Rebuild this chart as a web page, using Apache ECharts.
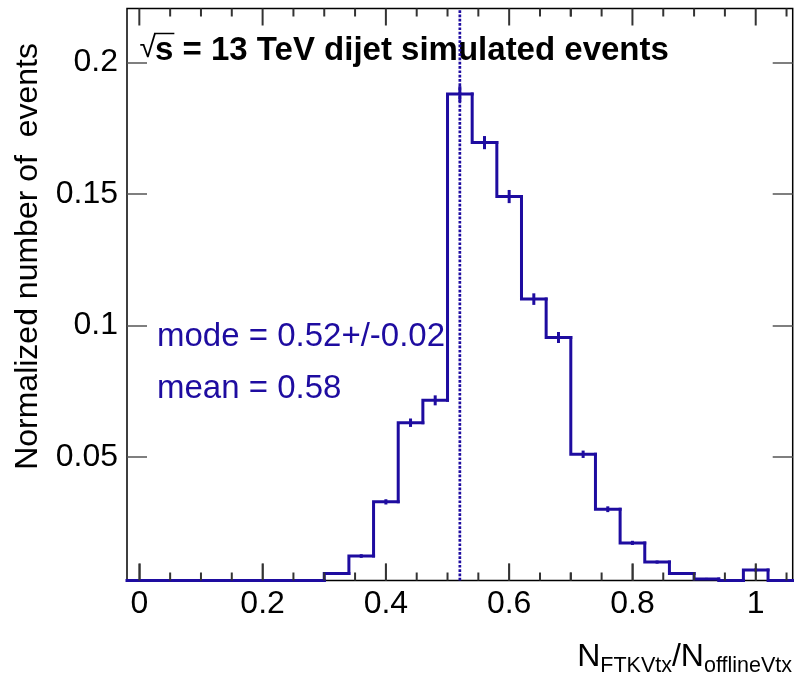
<!DOCTYPE html>
<html>
<head>
<meta charset="utf-8">
<script src="https://cdn.jsdelivr.net/npm/echarts@6/dist/echarts.min.js"></script>
<style>
  html, body { margin: 0; padding: 0; background: #ffffff; }
  #chart { width: 794px; height: 682px; }
</style>
</head>
<body>
<div id="chart"></div>
<script>
// Normalized distribution of N_FTKVtx / N_offlineVtx, 0.04-wide bins from -0.02 to 1.06
const binLowEdges = [-0.02, 0.02, 0.06, 0.10, 0.14, 0.18, 0.22, 0.26, 0.30, 0.34, 0.38, 0.42, 0.46,
                     0.50, 0.54, 0.58, 0.62, 0.66, 0.70, 0.74, 0.78, 0.82, 0.86, 0.90, 0.94, 0.98, 1.02];
const binWidth = 0.04;
const binContents = [0, 0, 0, 0, 0, 0, 0, 0, 0.0057, 0.0123, 0.0329, 0.0630, 0.0715,
                     0.1880, 0.1695, 0.1490, 0.1100, 0.0954, 0.0510, 0.0301, 0.0173, 0.0100, 0.0057, 0.0036, 0.0028, 0.0070, 0];
const binErrors   = [0, 0, 0, 0, 0, 0, 0, 0, 0.0005, 0.0007, 0.0010, 0.0016, 0.0019,
                     0.0030, 0.0025, 0.0025, 0.0022, 0.0021, 0.0014, 0.0011, 0.0008, 0.0006, 0.0005, 0.0004, 0.0003, 0.0006, 0];

// Summary numbers quoted on the plot
const modeValue = 0.52;
const modeError = 0.02;
const meanValue = 0.58;

// Axis ranges and ticks
const xRange = [-0.02, 1.06];
const yRange = [0.003, 0.2205];
const xMajorTicks = [0, 0.2, 0.4, 0.6, 0.8, 1];
const xTickLabels = ['0', '0.2', '0.4', '0.6', '0.8', '1'];
const xMinorTicks = [0.05, 0.1, 0.15, 0.25, 0.3, 0.35, 0.45, 0.5, 0.55, 0.65, 0.7, 0.75,
                     0.85, 0.9, 0.95, 1.05];
const yMajorTicks = [0.05, 0.1, 0.15, 0.2];
const yTickLabels = ['0.05', '0.1', '0.15', '0.2'];

const titleText = 's = 13 TeV dijet simulated events';
const yTitle = 'Normalized number of  events';
const xTitleParts = [['N', false], ['FTKVtx', true], ['/N', false], ['offlineVtx', true]];

const HIST = '#1e0ca0';
const TICK = '#333';
const FAMILY = '"Liberation Sans", Arial, Helvetica, sans-serif';
const font = (weight, size) => `${weight} ${size}px ${FAMILY}`;

const measureCtx = document.createElement('canvas').getContext('2d');
function textWidth(text, f) { measureCtx.font = f; return measureCtx.measureText(text).width; }

const chart = echarts.init(document.getElementById('chart'), null, { renderer: 'canvas' });

const frame = { left: 127, top: 8.5, width: 665.7, height: 572 };

const histData = binLowEdges.map((lo, i) => [
  lo, lo + binWidth, binContents[i], i > 0 ? binContents[i - 1] : binContents[i], binErrors[i]
]);

// One bin: rise from the previous level, then the flat top; error bar at the bin centre
function renderBin(params, api) {
  const lo = api.value(0), hi = api.value(1), v = api.value(2), pv = api.value(3), e = api.value(4);
  const floor = yRange[0];
  const p0 = api.coord([lo, Math.max(pv, floor)]);
  const p1 = api.coord([lo, Math.max(v, floor)]);
  const p2 = api.coord([hi, Math.max(v, floor)]);
  const children = [{
    type: 'polyline',
    shape: { points: [p0, p1, p2] },
    style: { stroke: HIST, lineWidth: 3, fill: 'none', lineJoin: 'miter', lineCap: 'square' }
  }];
  if (e > 0) {
    const c = (lo + hi) / 2;
    const a = api.coord([c, v - e]);
    const b = api.coord([c, v + e]);
    children.push({
      type: 'line',
      shape: { x1: a[0], y1: a[1], x2: b[0], y2: b[1] },
      style: { stroke: HIST, lineWidth: 3 }
    });
  }
  // x tick marks belonging to this bin's range, on the bottom and top frame edges
  const floorY = api.coord([lo, yRange[0]])[1];
  const topY = api.coord([lo, yRange[1]])[1];
  const addTick = (tv, len) => {
    const x = api.coord([tv, yRange[0]])[0];
    children.push({ type: 'line', shape: { x1: x, y1: floorY, x2: x, y2: floorY - len },
                    style: { stroke: TICK, lineWidth: 2 } });
    children.push({ type: 'line', shape: { x1: x, y1: topY, x2: x, y2: topY + len },
                    style: { stroke: TICK, lineWidth: 2 } });
  };
  xMajorTicks.forEach(tv => { if (tv >= lo && tv < hi) addTick(tv, 17); });
  xMinorTicks.forEach(tv => { if (tv >= lo && tv < hi) addTick(tv, 8); });
  return { type: 'group', children };
}

// Text pieces placed on the canvas
const graphics = [];
const titleFont = font('bold', 33);
const titleX = 155;
graphics.push({
  type: 'text', x: titleX + 1, y: 49, silent: true,
  style: { text: '\u221A', font: font('normal', 30), fill: '#000',
           align: 'right', textAlign: 'right', verticalAlign: 'middle', textVerticalAlign: 'middle' }
});
graphics.push({
  type: 'line', silent: true,
  shape: { x1: titleX - 1, y1: 33.5, x2: titleX + textWidth('s', titleFont) + 1, y2: 33.5 },
  style: { stroke: '#000', lineWidth: 1.5 }
});
graphics.push({
  type: 'text', x: titleX, y: 51, silent: true,
  style: { text: titleText, font: titleFont, fill: '#000',
           align: 'left', textAlign: 'left', verticalAlign: 'middle', textVerticalAlign: 'middle' }
});
graphics.push({
  type: 'text', x: 157, y: 337, silent: true,
  style: { text: 'mode = ' + modeValue.toFixed(2) + '+/-' + modeError.toFixed(2), font: font('normal', 33), fill: HIST,
           align: 'left', textAlign: 'left', verticalAlign: 'middle', textVerticalAlign: 'middle' }
});
graphics.push({
  type: 'text', x: 157, y: 389, silent: true,
  style: { text: 'mean = ' + meanValue.toFixed(2), font: font('normal', 33), fill: HIST,
           align: 'left', textAlign: 'left', verticalAlign: 'middle', textVerticalAlign: 'middle' }
});
graphics.push({
  type: 'text', x: 28, y: 43, rotation: Math.PI / 2, silent: true,
  style: { text: yTitle, font: font('normal', 32), fill: '#000',
           align: 'right', textAlign: 'right', verticalAlign: 'middle', textVerticalAlign: 'middle' }
});
// x-axis title with subscripts, right-aligned to the frame
(function () {
  const bigF = font('normal', 32), subF = font('normal', 21.5);
  const widths = xTitleParts.map(([t, sub]) => textWidth(t, sub ? subF : bigF));
  let x = 792 - widths.reduce((s, w) => s + w, 0);
  xTitleParts.forEach(([t, sub], i) => {
    graphics.push({
      type: 'text', x: x, y: sub ? 666 : 657, silent: true,
      style: { text: t, font: sub ? subF : bigF, fill: '#000',
               align: 'left', textAlign: 'left', verticalAlign: 'middle', textVerticalAlign: 'middle' }
    });
    x += widths[i];
  });
})();

const tickStyle = { color: '#555', width: 1.5 };
const labelStyle = { fontFamily: FAMILY, fontSize: 32, color: '#000' };
const noLine = { show: false, onZero: false };

const option = {
  animation: false,
  backgroundColor: '#ffffff',
  grid: Object.assign({ show: true, borderColor: '#000', borderWidth: 1.5,
    backgroundColor: 'transparent', containLabel: false }, frame),
  xAxis: {
    type: 'value', position: 'bottom', min: xRange[0], max: xRange[1],
    axisLine: noLine, splitLine: { show: false },
    axisTick: { show: true, inside: true, length: 17, lineStyle: tickStyle, customValues: xMajorTicks },
    axisLabel: Object.assign({ show: true, margin: 8, customValues: xMajorTicks,
      formatter: v => xTickLabels[xMajorTicks.indexOf(v)] }, labelStyle)
  },
  yAxis: [
    { type: 'value', position: 'left', min: yRange[0], max: yRange[1],
      axisLine: noLine, splitLine: { show: false },
      axisTick: { show: true, inside: true, length: 20, lineStyle: tickStyle, customValues: yMajorTicks },
      axisLabel: Object.assign({ show: true, margin: 9, customValues: yMajorTicks,
        formatter: v => yTickLabels[yMajorTicks.indexOf(v)] }, labelStyle) },
    { type: 'value', position: 'right', min: yRange[0], max: yRange[1],
      axisLine: noLine, splitLine: { show: false },
      axisTick: { show: true, inside: true, length: 20, lineStyle: tickStyle, customValues: yMajorTicks },
      axisLabel: { show: false, customValues: yMajorTicks } }
  ],
  series: [
    {
      name: 'histogram', type: 'custom', xAxisIndex: 0, yAxisIndex: 0,
      renderItem: renderBin, data: histData, clip: false, silent: true,
      encode: { x: [0, 1], y: 2 }, z: 3
    },
    {
      name: 'mode', type: 'line', xAxisIndex: 0, yAxisIndex: 0, silent: true,
      data: [[modeValue, yRange[0]], [modeValue, yRange[1]]],
      symbol: 'none', z: 4,
      lineStyle: { color: HIST, width: 2.7, type: [2.7, 1.6], cap: 'butt' }
    }
  ],
  graphic: graphics
};

chart.setOption(option);
</script>
</body>
</html>
